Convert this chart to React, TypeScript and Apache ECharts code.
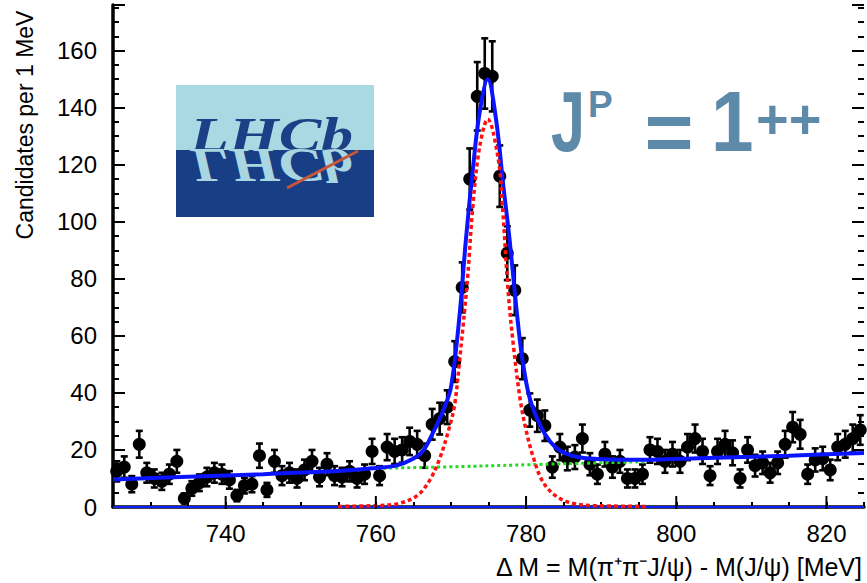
import React, { useEffect, useRef } from "react";
import * as echarts from "echarts";

// ---- data ----
const binCenters = [
  725.5, 726.5, 727.5, 728.5, 729.5, 730.5, 731.5, 732.5, 733.5, 734.5,
  735.5, 736.5, 737.5, 738.5, 739.5, 740.5, 741.5, 742.5, 743.5, 744.5,
  745.5, 746.5, 747.5, 748.5, 749.5, 750.5, 751.5, 752.5, 753.5, 754.5,
  755.5, 756.5, 757.5, 758.5, 759.5, 760.5, 761.5, 762.5, 763.5, 764.5,
  765.5, 766.5, 767.5, 768.5, 769.5, 770.5, 771.5, 772.5, 773.5, 774.5,
  775.5, 776.5, 777.5, 778.5, 779.5, 780.5, 781.5, 782.5, 783.5, 784.5,
  785.5, 786.5, 787.5, 788.5, 789.5, 790.5, 791.5, 792.5, 793.5, 794.5,
  795.5, 796.5, 797.5, 798.5, 799.5, 800.5, 801.5, 802.5, 803.5, 804.5,
  805.5, 806.5, 807.5, 808.5, 809.5, 810.5, 811.5, 812.5, 813.5, 814.5,
  815.5, 816.5, 817.5, 818.5, 819.5, 820.5, 821.5, 822.5, 823.5, 824.5,
];
const counts = [
  12.5, 14, 8, 22, 12, 10, 9, 11.5, 16, 3,
  6.5, 8.5, 10.5, 12, 11.5, 9.5, 4, 7.5, 8, 18,
  6, 16, 11, 12, 10, 13, 16, 10.5, 15, 11,
  10.5, 12.5, 10, 11.5, 19.5, 11, 21, 19.5, 20, 23,
  22, 18, 29, 31, 35, 51, 77, 115, 144, 152,
  151, 116, 89, 76, 52, 34, 32, 28.5, 14, 21,
  17, 17.5, 24, 15, 11.5, 18.5, 14, 16, 10, 10,
  11.5, 20, 19.5, 16, 18.5, 16, 21, 24, 19.5, 11,
  19.5, 22, 19, 10, 20, 14.5, 15.5, 12, 15.5, 22,
  28, 25.5, 11.5, 16.5, 17, 13, 21, 22, 24, 27,
];

// total fit (blue)
const totalFitX = [725, 735, 745, 750, 755, 760, 762.7, 764.9, 766.3, 767.6, 769, 770, 771.1, 772, 772.9, 773.8, 774.9, 776, 777, 777.8, 778.7, 779.5, 780.5, 782, 783.2, 784.5, 786.2, 788, 792, 797, 803, 810, 815, 820, 825];
const totalFitY = [9.6, 10.6, 11.5, 12.1, 12.6, 13.7, 14.5, 16.8, 19.7, 26, 34, 42, 66, 94, 118, 138, 150, 136, 112, 94, 70, 52, 38, 28, 23, 19.8, 17.9, 17.1, 16.6, 16.6, 17.1, 17.6, 18.0, 18.5, 18.9];

// signal component (red dotted)
const signalX = [755, 760, 763, 765.5, 767.2, 768.5, 769.8, 770.5, 771.1, 772.2, 772.9, 773.8, 774.9, 776.3, 776.9, 777.6, 778.3, 779.2, 780, 780.9, 782.2, 784, 786.2, 789, 796];
const signalY = [0.2, 0.5, 1.2, 4, 9.5, 17, 28, 36, 50, 80, 105, 126, 136, 122, 104, 76, 57, 38, 27, 18, 9, 3.8, 1.3, 0.5, 0.2];

// background component (green dotted)
const bkgX = [761, 770, 780, 790, 796];
const bkgY = [13.6, 14.1, 14.8, 15.5, 15.9];

const xMin = 725;
const xMax = 825;
const yMax = 176;
const xTickLabels = [740, 760, 780, 800, 820];
const yTickLabels = [0, 20, 40, 60, 80, 100, 120, 140, 160];

const FONT = "Liberation Sans";
const JP_COLOR = "#5e8aa9";

export default function App() {
  const ref = useRef<HTMLDivElement>(null);

  useEffect(() => {
    const chart = echarts.init(ref.current!, null, { renderer: "svg" });

    const points = binCenters.map((x, i) => [x, counts[i]]);
    const errors = binCenters.map((x, i) => {
      const e = Math.sqrt(counts[i]);
      return [x, Math.max(0, counts[i] - e), counts[i] + e];
    });
    const total = totalFitX.map((x, i) => [x, totalFitY[i]]);
    const signal = signalX.map((x, i) => [x, signalY[i]]);
    const bkg = bkgX.map((x, i) => [x, bkgY[i]]);

    const logoText = (fill: string) => ({
      type: "text",
      x: 0,
      y: 9,
      style: {
        text: "LHCb",
        fontSize: 48,
        fontStyle: "italic",
        fontWeight: "bold",
        fontFamily: "Liberation Serif",
        fill,
        align: "left",
        verticalAlign: "bottom",
      },
    });

    const option: any = {
      animation: false,
      backgroundColor: "#ffffff",
      grid: { left: 113, right: 2, top: 507 - yMax * 2.852, bottom: 76, containLabel: false },
      xAxis: {
        type: "value",
        min: xMin,
        max: xMax,
        interval: 5,
        offset: 2,
        axisLine: { show: true, lineStyle: { color: "#000", width: 3.5 } },
        axisTick: { show: true, inside: true, length: 5, lineStyle: { color: "#000", width: 2 } },
        axisLabel: {
          show: true,
          margin: 12,
          fontSize: 24,
          fontFamily: FONT,
          color: "#000",
          formatter: (v: number) => (xTickLabels.indexOf(Math.round(v)) >= 0 ? String(Math.round(v)) : ""),
        },
        splitLine: { show: false },
      },
      yAxis: [
        {
          type: "value",
          min: 0,
          max: yMax,
          interval: 20,
          axisLine: { show: true, lineStyle: { color: "#000", width: 3.5 } },
          axisTick: { show: true, inside: true, length: 12, lineStyle: { color: "#000", width: 2 } },
          minorTick: { show: true, splitNumber: 4, length: 6, lineStyle: { color: "#000", width: 2 } },
          axisLabel: {
            show: true,
            margin: 16,
            fontSize: 24,
            fontFamily: FONT,
            color: "#000",
            showMaxLabel: false,
            formatter: (v: number) => (yTickLabels.indexOf(Math.round(v)) >= 0 ? String(Math.round(v)) : ""),
          },
          splitLine: { show: false },
        },
        {
          type: "value",
          position: "right",
          min: 0,
          max: yMax,
          interval: 20,
          axisLine: { show: false },
          axisTick: { show: true, inside: true, length: 12, lineStyle: { color: "#000", width: 2 } },
          minorTick: { show: true, splitNumber: 4, length: 6, lineStyle: { color: "#000", width: 2 } },
          axisLabel: { show: false },
          splitLine: { show: false },
        },
      ],
      graphic: [
        {
          type: "text",
          x: 25,
          y: 125,
          rotation: Math.PI / 2,
          style: {
            text: "Candidates per 1 MeV",
            fontSize: 23,
            fontFamily: FONT,
            fill: "#000",
            align: "center",
            verticalAlign: "middle",
          },
        },
        {
          type: "text",
          x: 862,
          y: 567,
          style: {
            text: "\u0394 M = M(\u03c0\u207a\u03c0\u207bJ/\u03c8) - M(J/\u03c8) [MeV]",
            fontSize: 25,
            fontFamily: FONT,
            fill: "#000",
            align: "right",
            verticalAlign: "middle",
          },
        },
        // LHCb logo
        { type: "rect", shape: { x: 176, y: 85, width: 198, height: 65 }, style: { fill: "#a9d9e3" } },
        { type: "rect", shape: { x: 176, y: 150, width: 198, height: 67 }, style: { fill: "#183e85" } },
        { type: "group", x: 190, y: 150, scaleX: 1.33, children: [logoText("#1c3f86")] },
        { type: "group", x: 190, y: 150, scaleX: 1.33, scaleY: -1, children: [logoText("#a9d6e0")] },
        {
          type: "line",
          shape: { x1: 287, y1: 188, x2: 358, y2: 151 },
          style: { stroke: "#c8563a", lineWidth: 3 },
        },
        // J^P = 1^++
        { type: "text", x: 551, y: 122, scaleX: 0.72, style: { text: "J", fontSize: 85, fontWeight: "bold", fontFamily: FONT, fill: JP_COLOR, align: "left", verticalAlign: "middle" } },
        { type: "text", x: 588, y: 104, style: { text: "P", fontSize: 37, fontWeight: "bold", fontFamily: FONT, fill: JP_COLOR, align: "left", verticalAlign: "middle" } },
        { type: "text", x: 669, y: 132, style: { text: "=", fontSize: 84, fontWeight: "bold", fontFamily: FONT, fill: JP_COLOR, align: "center", verticalAlign: "middle" } },
        { type: "text", x: 711, y: 122, scaleX: 0.9, style: { text: "1", fontSize: 85, fontWeight: "bold", fontFamily: FONT, fill: JP_COLOR, align: "left", verticalAlign: "middle" } },
        { type: "text", x: 756, y: 118, style: { text: "++", fontSize: 56, fontWeight: "bold", fontFamily: FONT, fill: JP_COLOR, align: "left", verticalAlign: "middle" } },
      ],
      series: [
        {
          name: "errors",
          type: "custom",
          z: 3,
          encode: { x: 0, y: [1, 2] },
          data: errors,
          renderItem: (params: any, api: any) => {
            const x = api.value(0);
            const top = api.coord([x, api.value(2)]);
            const bot = api.coord([x, api.value(1)]);
            const h = 3.5;
            const st = { stroke: "#000", lineWidth: 2.6 };
            return {
              type: "group",
              children: [
                { type: "line", shape: { x1: top[0], y1: top[1], x2: bot[0], y2: bot[1] }, style: st },
                { type: "line", shape: { x1: top[0] - h, y1: top[1], x2: top[0] + h, y2: top[1] }, style: st },
                { type: "line", shape: { x1: bot[0] - h, y1: bot[1], x2: bot[0] + h, y2: bot[1] }, style: st },
              ],
            };
          },
        },
        {
          name: "data",
          type: "scatter",
          z: 4,
          symbol: "circle",
          symbolSize: 13,
          itemStyle: { color: "#000", opacity: 1 },
          data: points,
        },
        {
          name: "baseline",
          type: "line",
          z: 5,
          symbol: "none",
          lineStyle: { color: "#1020ff", width: 2 },
          data: [[xMin, 0], [xMax, 0]],
        },
        {
          name: "background",
          type: "line",
          z: 5,
          symbol: "none",
          smooth: true,
          lineStyle: { color: "#22dd22", width: 3, type: [3, 3] },
          data: bkg,
        },
        {
          name: "total",
          type: "line",
          z: 6,
          symbol: "none",
          smooth: 0.35,
          lineStyle: { color: "#0a14ff", width: 4 },
          data: total,
        },
        {
          name: "signal",
          type: "line",
          z: 7,
          symbol: "none",
          smooth: 0.35,
          lineStyle: { color: "#ff1010", width: 3.5, type: [4, 3] },
          data: signal,
        },
        {
          name: "majorTicks",
          type: "custom",
          z: 8,
          encode: { x: 0 },
          data: xTickLabels.map((v) => [v, 0]),
          renderItem: (params: any, api: any) => {
            const p = api.coord([api.value(0), 0]);
            return {
              type: "line",
              shape: { x1: p[0], y1: p[1] + 2, x2: p[0], y2: p[1] - 11 },
              style: { stroke: "#000", lineWidth: 2 },
            };
          },
        },
      ],
    };

    chart.setOption(option);
    return () => chart.dispose();
  }, []);

  return <div ref={ref} style={{ position: "fixed", left: 0, top: 0, width: 867, height: 583 }} />;
}
